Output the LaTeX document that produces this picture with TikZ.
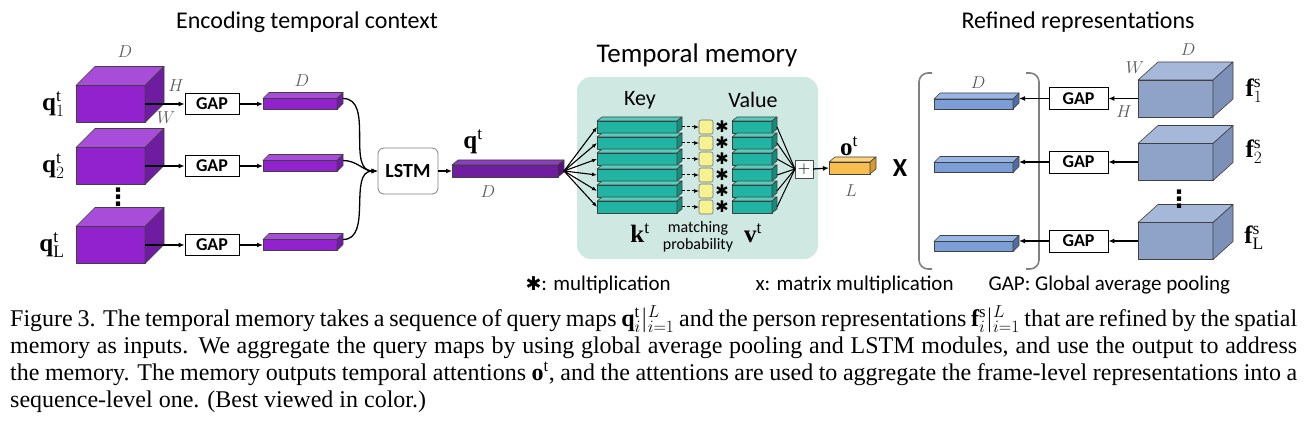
\documentclass[tikz,border=0pt]{standalone}
\usepackage{fontspec}
\setmainfont{Liberation Serif}
\setsansfont{Carlito}
\newfontfamily\symfont{DejaVu Sans}
\usepackage{tikz}
\usetikzlibrary{arrows.meta, positioning}

\definecolor{pFront}{RGB}{145,34,205}
\definecolor{pTop}{RGB}{168,76,218}
\definecolor{pSide}{RGB}{110,28,160}
\definecolor{qFront}{RGB}{112,30,160}
\definecolor{qTop}{RGB}{140,60,190}
\definecolor{qSide}{RGB}{85,20,125}
\definecolor{tFront}{RGB}{33,180,162}
\definecolor{tTop}{RGB}{85,205,188}
\definecolor{tSide}{RGB}{22,140,126}
\definecolor{memBg}{RGB}{207,232,225}
\definecolor{probFill}{RGB}{246,242,145}
\definecolor{oFront}{RGB}{250,190,80}
\definecolor{oTop}{RGB}{252,212,125}
\definecolor{oSide}{RGB}{215,155,45}
\definecolor{bFront}{RGB}{124,158,214}
\definecolor{bTop}{RGB}{152,182,228}
\definecolor{bSide}{RGB}{80,108,160}
\definecolor{cFront}{RGB}{143,163,201}
\definecolor{cTop}{RGB}{166,184,217}
\definecolor{cSide}{RGB}{124,144,184}
\definecolor{dimGray}{RGB}{90,90,90}

\begin{document}
\begin{tikzpicture}[x=1pt, y=-1pt,
        facedraw/.style={draw=black!75, line width=0.6pt, line join=round},
        box/.style={facedraw, inner sep=0pt, outer sep=0pt},
        cubeq/.style={box, fill=pFront, minimum width=69pt, minimum height=37pt},
        cubef/.style={box, fill=cFront, minimum width=75pt, minimum height=37pt},
        vecq/.style={box, fill=pFront, minimum width=74pt, minimum height=11pt},
        vecf/.style={box, fill=bFront, minimum width=79pt, minimum height=10pt},
        keybar/.style={box, fill=tFront, minimum width=80pt, minimum height=12pt},
        valbar/.style={box, fill=tFront, minimum width=40pt, minimum height=12pt},
        prob/.style={box, fill=probFill, draw=black!55, rounded corners=2pt, minimum size=14pt},
        gap/.style={draw, line width=0.8pt, fill=white, inner sep=0pt, minimum width=54pt, minimum height=21pt, font=\sffamily\bfseries\fontsize{18}{18}\selectfont},
        title/.style={font=\sffamily\fontsize{24}{24}\selectfont},
        legend/.style={font=\sffamily\fontsize{21}{21}\selectfont, anchor=west},
        dim/.style={text=dimGray, font=\fontsize{18}{18}\selectfont},
        lbl/.style={font=\fontsize{25}{25}\selectfont},
        vdot/.style={inner sep=0pt, font=\symfont\bfseries\fontsize{24}{24}\selectfont},
        flow/.style={-{Latex[length=6pt,width=5pt]}, line width=1.3pt},
        fan/.style={-{Latex[length=5pt,width=4pt]}, line width=1.1pt},
        dashflow/.style={-{Latex[length=5pt,width=4pt]}, line width=1pt, dash pattern=on 3pt off 2pt}
    ]
    \useasboundingbox (0,0) rectangle (1306,422);

    % Encoding temporal context
    \node[title] (encTitle) at (307,22) {Encoding temporal context};
    \foreach \i/\y in {1/104, 2/166, 3/245} {
        \node[cubeq] (cubeQ\i) at (110.5,\y) {};
        \node[gap] (gapQ\i) at (212,\y) {GAP};
        \node[vecq] (vecQ\i) at (300,\y) {};
    }
    \foreach \n/\dx/\dy/\ct/\cs in {cubeQ1/19/19/pTop/pSide, cubeQ2/19/19/pTop/pSide, cubeQ3/19/19/pTop/pSide,
        vecQ1/6/6/pTop/pSide, vecQ2/6/6/pTop/pSide, vecQ3/6/6/pTop/pSide} {
        \filldraw[facedraw, fill=\ct] (\n.north west) -- ([shift={(\dx,-\dy)}]\n.north west) -- ([shift={(\dx,-\dy)}]\n.north east) -- (\n.north east) -- cycle;
        \filldraw[facedraw, fill=\cs] (\n.north east) -- ([shift={(\dx,-\dy)}]\n.north east) -- ([shift={(\dx,-\dy)}]\n.south east) -- (\n.south east) -- cycle;
    }
    \node[lbl, left=8pt of cubeQ1] (q1) {$\mathbf{q}_1^{\mathrm{t}}$};
    \node[lbl, left=8pt of cubeQ2] (q2) {$\mathbf{q}_2^{\mathrm{t}}$};
    \node[lbl, left=8pt of cubeQ3] (qL) {$\mathbf{q}_{\mathrm{L}}^{\mathrm{t}}$};
    \node[vdot] (qdots) at (118,197) {⋮};
    \node[dim] (dimD1) at (125,52) {$D$};
    \node[dim] (dimH1) at (176,86) {$H$};
    \node[dim] (dimW1) at (166,118) {$W$};
    \node[dim] (dimD2) at (302,81) {$D$};
    \foreach \i in {1,2,3} {
        \draw[flow] (cubeQ\i.east) -- (cubeQ\i.east -| gapQ\i.west);
        \draw[flow] (gapQ\i.east) -- (gapQ\i.east -| vecQ\i.west);
    }

    % LSTM
    \node[draw=black!50, line width=0.8pt, rounded corners=6pt, minimum width=60pt, minimum height=46pt, inner sep=0pt, font=\sffamily\bfseries\fontsize{20}{20}\selectfont] (lstm) at (408,171) {LSTM};
    \foreach \i in {1,2,3}
        \draw[flow] ([xshift=6pt]vecQ\i.north east) to[out=0, in=180] (lstm.west);
    \node[box, fill=qFront, minimum width=106pt, minimum height=12pt] (qbar) at (505,171) {};
    \filldraw[facedraw, fill=qTop] (qbar.north west) -- ([shift={(6,-5)}]qbar.north west) -- ([shift={(6,-5)}]qbar.north east) -- (qbar.north east) -- cycle;
    \filldraw[facedraw, fill=qSide] (qbar.north east) -- ([shift={(6,-5)}]qbar.north east) -- ([shift={(6,-5)}]qbar.south east) -- (qbar.south east) -- cycle;
    \node[lbl] (qt) at (473,142) {$\mathbf{q}^{\mathrm{t}}$};
    \node[dim] (dimD3) at (488,192) {$D$};
    \draw[flow] (lstm.east) -- (qbar.west);

    % Temporal memory
    \node[fill=memBg, rounded corners=14pt, minimum width=241pt, minimum height=182pt, inner sep=0pt] (mem) at (697.5,168) {};
    \node[title, font=\sffamily\fontsize{27}{27}\selectfont] (memTitle) at (697,55) {Temporal memory};
    \node[font=\sffamily\fontsize{22}{22}\selectfont] (keyTitle) at (640,100) {Key};
    \node[font=\sffamily\fontsize{22}{22}\selectfont] (valTitle) at (753,100) {Value};
    \node[box, draw=black!70, fill=white!85!memBg, line width=0.8pt, minimum size=18pt, font=\fontsize{18}{18}\selectfont] (plus) at (804,169) {$+$};
    \foreach \i in {1,...,6} {
        \node[keybar] (key\i) at (637,111+16*\i) {};
        \node[prob] (prob\i) at (706,111+16*\i) {};
        \node[font=\symfont\fontsize{16}{16}\selectfont] (star\i) at (722,111+16*\i) {✱};
        \node[valbar] (val\i) at (752,111+16*\i) {};
        \foreach \n in {key\i, val\i} {
            \filldraw[facedraw, fill=tTop] (\n.north west) -- ([shift={(5,-4)}]\n.north west) -- ([shift={(5,-4)}]\n.north east) -- (\n.north east) -- cycle;
            \filldraw[facedraw, fill=tSide] (\n.north east) -- ([shift={(5,-4)}]\n.north east) -- ([shift={(5,-4)}]\n.south east) -- (\n.south east) -- cycle;
        }
        \draw[fan] ([xshift=6pt]qbar.east) -- (key\i.west);
        \draw[dashflow] ([xshift=5pt]key\i.east) -- (prob\i.west);
        \draw[line width=1pt] ([xshift=5pt]val\i.east) -- (plus.west);
    }
    \node[lbl] (kt) at (640,233) {$\mathbf{k}^{\mathrm{t}}$};
    \node[align=center, font=\sffamily\fontsize{16}{17}\selectfont] (matchProb) at (698,237) {matching\\probability};
    \node[lbl] (vt) at (753,233) {$\mathbf{v}^{\mathrm{t}}$};

    % attention output
    \node[box, fill=oFront, minimum width=41pt, minimum height=12pt] (obar) at (849.5,168) {};
    \filldraw[facedraw, fill=oTop] (obar.north west) -- ([shift={(6,-5)}]obar.north west) -- ([shift={(6,-5)}]obar.north east) -- (obar.north east) -- cycle;
    \filldraw[facedraw, fill=oSide] (obar.north east) -- ([shift={(6,-5)}]obar.north east) -- ([shift={(6,-5)}]obar.south east) -- (obar.south east) -- cycle;
    \node[lbl] (ot) at (849,146) {$\mathbf{o}^{\mathrm{t}}$};
    \node[dim] (dimL) at (851,191) {$L$};
    \draw[flow] (plus.east) -- (obar.west);
    \node[font=\sffamily\bfseries\fontsize{26}{26}\selectfont] (times) at (900,168) {X};

    % Refined representations
    \node[title] (refTitle) at (1078,22) {Refined representations};
    \draw[gray, line width=1.6pt, rounded corners=9pt] (932,73) -- (919,73) -- (919,269) -- (932,269);
    \draw[gray, line width=1.6pt, rounded corners=9pt] (1026,73) -- (1039,73) -- (1039,269) -- (1026,269);
    \foreach \i/\y in {1/98.5, 2/162, 3/241} {
        \node[cubef] (cubeF\i) at (1175.5,\y) {};
        \node[gap, minimum width=59pt, minimum height=22pt] (gapF\i) at (1078.5,\y) {GAP};
        \node[vecf] (vecF\i) at (973.5,\y+5.5) {};
        \coordinate (vecF\i back) at ([xshift=6pt]vecF\i.east);
    }
    \foreach \n/\dx/\dy/\ct/\cs in {cubeF1/20/18/cTop/cSide, cubeF2/20/18/cTop/cSide, cubeF3/20/18/cTop/cSide,
        vecF1/6/6/bTop/bSide, vecF2/6/6/bTop/bSide, vecF3/6/6/bTop/bSide} {
        \filldraw[facedraw, fill=\ct] (\n.north west) -- ([shift={(\dx,-\dy)}]\n.north west) -- ([shift={(\dx,-\dy)}]\n.north east) -- (\n.north east) -- cycle;
        \filldraw[facedraw, fill=\cs] (\n.north east) -- ([shift={(\dx,-\dy)}]\n.north east) -- ([shift={(\dx,-\dy)}]\n.south east) -- (\n.south east) -- cycle;
    }
    \foreach \i in {1,2,3} {
        \draw[flow] (cubeF\i.west |- gapF\i.east) -- (gapF\i.east);
        \draw[flow] (gapF\i.west) -- (vecF\i back |- gapF\i.west);
    }
    \node[lbl] (f1) at (1254,91) {$\mathbf{f}_1^{\mathrm{s}}$};
    \node[lbl] (f2) at (1254,152) {$\mathbf{f}_2^{\mathrm{s}}$};
    \node[lbl] (fL) at (1254,238) {$\mathbf{f}_{\mathrm{L}}^{\mathrm{s}}$};
    \node[vdot] (fdots) at (1179,199) {⋮};
    \node[dim] (dimD4) at (978,83) {$D$};
    \node[dim] (dimW2) at (1135,68) {$W$};
    \node[dim] (dimH2) at (1124,112) {$H$};
    \node[dim] (dimD5) at (1188,50) {$D$};

    % legend
    \node[legend] (legMul) at (522,285) {{\symfont\fontsize{19}{19}\selectfont ✱}: multiplication};
    \node[legend] (legMat) at (752,285) {x: matrix multiplication};
    \node[legend] (legGap) at (985,285) {GAP: Global average pooling};

    % caption
    \node[anchor=north west, text width=1287pt, align=justify, inner sep=0pt, font=\fontsize{24}{27}\selectfont] (caption) at (10,305) {Figure 3. The temporal memory takes a sequence of query maps $\mathbf{q}_i^{\mathrm{t}}|_{i=1}^{L}$ and the person representations $\mathbf{f}_i^{\mathrm{s}}|_{i=1}^{L}$ that are refined by the spatial\linebreak memory as inputs. We aggregate the query maps by using global average pooling and LSTM modules, and use the output to address\linebreak the memory. The memory outputs temporal attentions $\mathbf{o}^{\mathrm{t}}$, and the attentions are used to aggregate the frame-level representations into a\linebreak sequence-level one. (Best viewed in color.)};

\end{tikzpicture}
\end{document}
